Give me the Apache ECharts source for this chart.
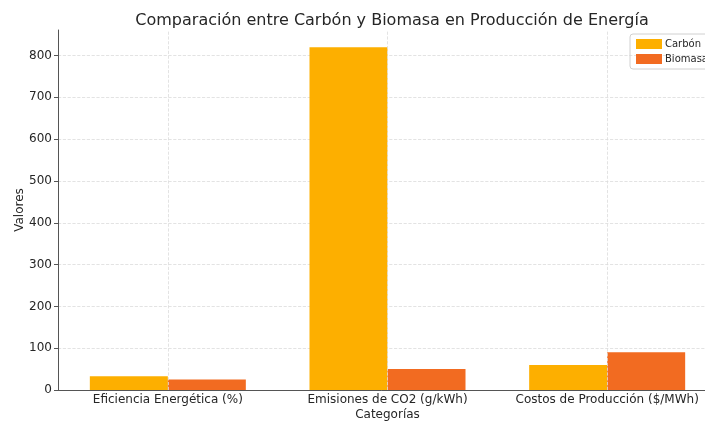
<!DOCTYPE html>
<html>
<head>
<meta charset="utf-8">
<script src="https://cdn.jsdelivr.net/npm/echarts@6/dist/echarts.min.js"></script>
<style>
  html, body { margin: 0; padding: 0; background: #fff; }
  #chart { width: 705px; height: 425px; }
</style>
</head>
<body>
<div id="chart"></div>
<script>
const categories = ['Eficiencia Energética (%)', 'Emisiones de CO2 (g/kWh)', 'Costos de Producción ($/MWh)']
const carbon = [33, 820, 60]
const biomasa = [25, 50, 90]
const yTicks = [0, 100, 200, 300, 400, 500, 600, 700, 800]

const font = 'DejaVu Sans'
const chart = echarts.init(document.getElementById('chart'))

const option = {
  backgroundColor: '#fff',
  animation: false,
  textStyle: { fontFamily: font },
  title: {
    text: 'Comparación entre Carbón y Biomasa en Producción de Energía',
    left: 387,
    textAlign: 'center',
    top: 8,
    textStyle: { fontFamily: font, fontSize: 16, fontWeight: 'normal', color: '#262626' }
  },
  legend: {
    orient: 'vertical',
    left: 630,
    top: 34,
    itemWidth: 26,
    itemHeight: 10,
    itemGap: 5,
    padding: [5, 6],
    borderColor: '#d0d0d0',
    borderWidth: 1,
    borderRadius: 3,
    icon: 'rect',
    textStyle: { fontFamily: font, fontSize: 10, color: '#262626', padding: [0, 0, 0, -2] },
    data: ['Carbón', 'Biomasa']
  },
  grid: {
    left: 58,
    right: -12,
    top: 30,
    bottom: 35,
    outerBoundsMode: 'none'
  },
  xAxis: {
    type: 'category',
    data: categories,
    name: 'Categorías',
    nameLocation: 'middle',
    nameGap: 19,
    nameMoveOverlap: false,
    nameTextStyle: { fontFamily: font, fontSize: 12, color: '#262626' },
    axisLine: { lineStyle: { color: '#555', width: 1 } },
    axisTick: { show: false },
    axisLabel: { fontFamily: font, fontSize: 12, color: '#262626', margin: 4, interval: 0 },
    splitLine: { show: false }
  },
  yAxis: {
    type: 'value',
    min: 0,
    max: 861,
    interval: 100,
    name: 'Valores',
    nameLocation: 'middle',
    nameGap: 32,
    nameMoveOverlap: false,
    nameTextStyle: { fontFamily: font, fontSize: 12, color: '#262626' },
    axisLine: { show: true, lineStyle: { color: '#555', width: 1 } },
    axisTick: { show: true, length: 4, lineStyle: { color: '#555' } },
    axisLabel: {
      fontFamily: font, fontSize: 12, color: '#262626', margin: 6,
      showMaxLabel: false,
      formatter: v => (yTicks.indexOf(v) >= 0 ? String(v) : '')
    },
    splitLine: {
      show: true,
      showMaxLine: false,
      lineStyle: { type: 'dashed', color: '#dcdcdc', width: 0.8 }
    }
  },
  series: [
    {
      name: 'Carbón',
      type: 'bar',
      barWidth: 78,
      barGap: '0%',
      itemStyle: { color: '#FDAF00' },
      data: carbon
    },
    {
      name: 'Biomasa',
      type: 'bar',
      barWidth: 78,
      barGap: '0%',
      itemStyle: { color: '#F26B21' },
      data: biomasa
    },
    {
      // vertical grid lines at the category centres
      name: 'grid',
      type: 'line',
      data: [],
      silent: true,
      z: 0,
      markLine: {
        silent: true,
        symbol: 'none',
        label: { show: false },
        lineStyle: { type: 'dashed', color: '#dcdcdc', width: 0.8 },
        data: categories.map(c => ({ xAxis: c }))
      }
    }
  ]
}
chart.setOption(option)
</script>
</body>
</html>
